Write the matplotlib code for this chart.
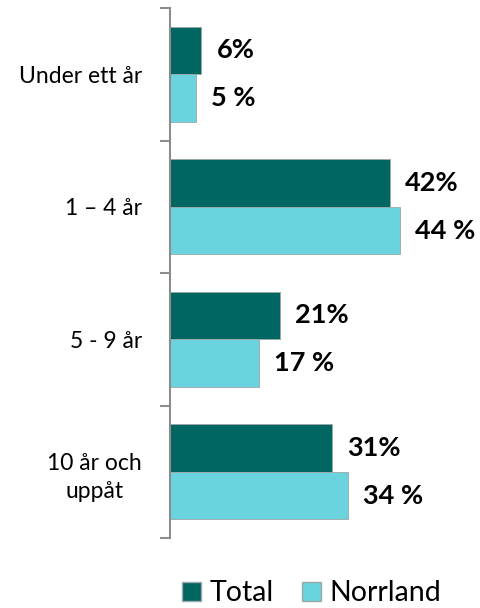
import matplotlib
matplotlib.use("Agg")
import matplotlib.pyplot as plt
import numpy as np
from matplotlib.patches import Patch

plt.rcParams['font.family'] = ['Lato', 'DejaVu Sans']

categories = ["Under ett år", "1 – 4 år", "5 - 9 år", "10 år och\nuppåt"]
total = [6, 42, 21, 31]
norrland = [5, 44, 17, 34]
total_labels = ["6%", "42%", "21%", "31%"]
norrland_labels = ["5 %", "44 %", "17 %", "34 %"]
series_names = ["Total", "Norrland"]

C_TOTAL = "#006661"
C_NORR = "#6BD3DE"

fig = plt.figure(figsize=(4.81, 6.08), dpi=100)
ax = fig.add_axes([170 / 481, 70 / 608, 1 - 170 / 481, 530 / 608])

y = np.arange(len(categories))
h = 0.36
ax.barh(y - h / 2, total, height=h, color=C_TOTAL, edgecolor="#9aa8a8", linewidth=0.6)
ax.barh(y + h / 2, norrland, height=h, color=C_NORR, edgecolor="#9aa8a8", linewidth=0.6)

for yi, v, lab in zip(y, total, total_labels):
    ax.annotate(lab, (v, yi - h / 2), xytext=(11, 0), textcoords="offset points",
                ha="left", va="center", fontsize=19.5, fontweight="bold")
for yi, v, lab in zip(y, norrland, norrland_labels):
    ax.annotate(lab, (v, yi + h / 2), xytext=(11, 0), textcoords="offset points",
                ha="left", va="center", fontsize=19.5, fontweight="bold")

ax.set_xlim(0, 59.5)
ax.set_ylim(3.5, -0.5)
ax.set_yticks(y)
ax.set_yticklabels(categories, fontsize=16.5, multialignment="center", linespacing=1.45)
ax.set_yticks(np.arange(-0.5, 4, 1), minor=True)
ax.tick_params(axis="y", which="major", length=0, pad=20)
ax.tick_params(axis="y", which="minor", length=7, width=1.5, color="#8c8c8c")
ax.set_xticks([])
for s in ["top", "right", "bottom"]:
    ax.spines[s].set_visible(False)
ax.spines["left"].set_color("#8c8c8c")
ax.spines["left"].set_linewidth(1.5)

handles = [Patch(facecolor=C_TOTAL, edgecolor="#9aa8a8"),
           Patch(facecolor=C_NORR, edgecolor="#9aa8a8")]
fig.legend(handles, series_names, loc="center", bbox_to_anchor=(0.648, 0.024),
           ncol=2, frameon=False, fontsize=20.5, handlelength=0.65, handleheight=0.65,
           handletextpad=0.3, columnspacing=1.0, borderpad=0.2)

fig.savefig("out.png", dpi=100)
